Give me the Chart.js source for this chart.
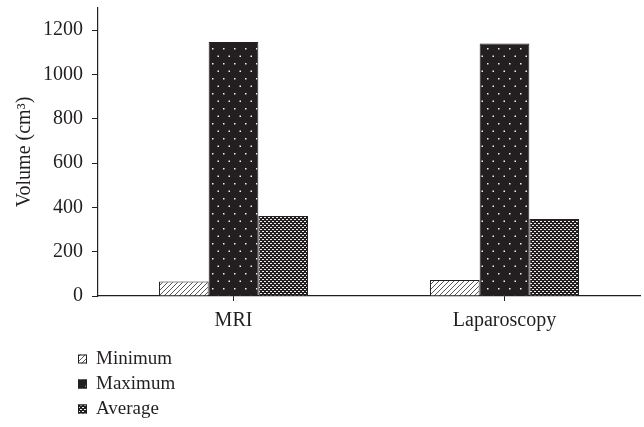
<!DOCTYPE html>
<html lang="en">
<head>
    <meta charset="UTF-8">
    <title>Volume</title>
    <script src="https://cdn.jsdelivr.net/npm/chart.js"></script>
    <style>
        html, body { margin: 0; padding: 0; background: #fff; }
        .wrap { width: 644px; height: 427px; position: relative; }
    </style>
</head>
<body>
    <div class="wrap"><canvas id="volChart" width="644" height="427"></canvas></div>

    <script>
        // data
        const categories = ['MRI', 'Laparoscopy'];
        const seriesNames = ['Minimum', 'Maximum', 'Average'];
        const minimumVals = [65, 72];
        const maximumVals = [1147, 1140];
        const averageVals = [361, 348];
        const yMax = 1300;

        const FONT = '"Liberation Serif", "DejaVu Serif", serif';
        const INK = '#231f20';

        // fill patterns
        function makeTile(w, h, draw) {
            const c = document.createElement('canvas');
            c.width = w; c.height = h;
            draw(c.getContext('2d'));
            return c.getContext('2d').createPattern(c, 'repeat');
        }

        const hatchPattern = makeTile(5, 5, function (g) {
            g.fillStyle = '#fff';
            g.fillRect(0, 0, 5, 5);
            g.strokeStyle = '#444';
            g.lineWidth = 0.9;
            g.beginPath();
            g.moveTo(0, 5); g.lineTo(5, 0);
            g.moveTo(-1, 1); g.lineTo(1, -1);
            g.moveTo(4, 6); g.lineTo(6, 4);
            g.stroke();
        });

        const dotPattern = makeTile(11, 15, function (g) {
            g.fillStyle = INK;
            g.fillRect(0, 0, 11, 15);
            g.fillStyle = '#f4f4f4';
            g.fillRect(3, 3, 1.5, 1.5);
            g.fillRect(8.5, 10.5, 1.5, 1.5);
        });

        const checkPattern = makeTile(4, 4, function (g) {
            g.fillStyle = INK;
            g.fillRect(0, 0, 4, 4);
            g.fillStyle = '#eee';
            g.fillRect(0, 1, 2, 1);
            g.fillRect(2, 3, 2, 1);
        });

        const fills = [hatchPattern, dotPattern, checkPattern];
        const values = [minimumVals, maximumVals, averageVals];

        // vertical legend under the plot
        const columnLegend = {
            id: 'columnLegend',
            afterDraw(chart) {
                const ctx = chart.ctx;
                ctx.save();
                ctx.font = '19px ' + FONT;
                ctx.textBaseline = 'middle';
                chart.data.datasets.forEach(function (ds, i) {
                    const y = 359 + i * 25;
                    ctx.fillStyle = ds.backgroundColor;
                    ctx.fillRect(78, y - 4.5, 9, 9);
                    ctx.strokeStyle = INK;
                    ctx.lineWidth = 1;
                    ctx.strokeRect(78.5, y - 4, 8, 8);
                    ctx.fillStyle = INK;
                    ctx.fillText(ds.label, 96, y);
                });
                ctx.restore();
            }
        };

        const ctx = document.getElementById('volChart').getContext('2d');
        new Chart(ctx, {
            type: 'bar',
            data: {
                labels: categories,
                datasets: seriesNames.map(function (name, i) {
                    return {
                        label: name,
                        data: values[i],
                        backgroundColor: fills[i],
                        borderColor: INK,
                        borderWidth: 1,
                        categoryPercentage: 0.55,
                        barPercentage: 1.0
                    };
                })
            },
            options: {
                responsive: false,
                animation: false,
                layout: { padding: { top: 8, right: 4, left: 0, bottom: 0 } },
                plugins: {
                    legend: { display: false },
                    tooltip: { enabled: false }
                },
                scales: {
                    x: {
                        grid: {
                            offset: false,
                            drawOnChartArea: false,
                            drawTicks: true,
                            tickLength: 5,
                            color: INK
                        },
                        border: { color: INK, width: 1.2 },
                        ticks: {
                            color: INK,
                            font: { family: FONT, size: 20 },
                            padding: 8
                        },
                        afterFit(scale) {
                            scale.height = 131;
                            scale.paddingLeft = 0;
                            scale.paddingRight = 0;
                        }
                    },
                    y: {
                        min: 0,
                        max: yMax,
                        grid: {
                            drawOnChartArea: false,
                            drawTicks: true,
                            tickLength: 6,
                            color: INK
                        },
                        border: { color: INK, width: 1.2 },
                        ticks: {
                            stepSize: 100,
                            color: INK,
                            font: { family: FONT, size: 20 },
                            padding: 9,
                            callback: function (v) { return (v % 200 === 0 && v < yMax) ? v : ''; }
                        },
                        title: {
                            display: true,
                            text: 'Volume (cm³)',
                            color: INK,
                            font: { family: FONT, size: 20 },
                            padding: { top: 13, bottom: 0 }
                        },
                        afterFit(scale) {
                            scale.width = 98;
                            scale.paddingTop = 0;
                            scale.paddingBottom = 0;
                        }
                    }
                }
            },
            plugins: [columnLegend]
        });
    </script>
</body>
</html>
